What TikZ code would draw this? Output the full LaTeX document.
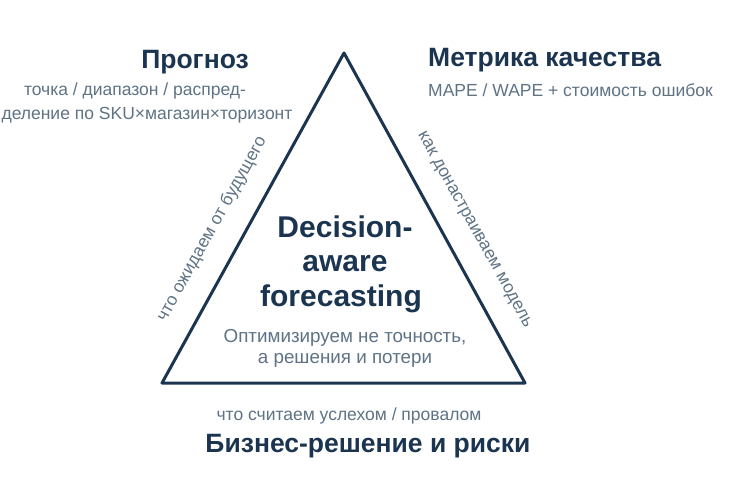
\documentclass[tikz,border=0pt]{standalone}
\usepackage{fontspec}
\setmainfont{Liberation Sans}
\definecolor{navy}{HTML}{1B3550}
\definecolor{greytext}{HTML}{5F7385}
\begin{document}
\begin{tikzpicture}[x=1bp,y=-1bp,
  title/.style={inner sep=0pt,text=navy,font=\fontsize{26.5bp}{30bp}\selectfont\bfseries},
  core/.style={inner sep=0pt,text=navy,font=\fontsize{30bp}{34bp}\selectfont\bfseries},
  sub/.style={inner sep=0pt,text=greytext,font=\fontsize{17.5bp}{21bp}\selectfont},
  coresub/.style={inner sep=0pt,text=greytext,font=\fontsize{18.8bp}{22bp}\selectfont},
  edge/.style={draw=navy,line width=3bp,line join=round,line cap=round}]
\useasboundingbox[fill=white] (0,0) rectangle (751,501);
\coordinate (A) at (344,53);
\coordinate (B) at (162,383);
\coordinate (C) at (525,383);
\draw[edge] (A) -- (B) -- (C) -- cycle;
% top-left
\node[title,anchor=base] (t1) at (195,69) {Прогноз};
\node[sub,anchor=base] (s1a) at (135,96) {точка / диапазон / распред-};
\node[sub,anchor=base] (s1b) at (147,120) {деление по SKU×магазин×торизонт};
% top-right
\node[title,anchor=base west] (t2) at (428,67) {Метрика качества};
\node[sub,anchor=base west] (s2) at (428,97) {MAPE / WAPE + стоимость ошибок};
% center
\node[core,anchor=base] (c1) at (345,238) {Decision-};
\node[core,anchor=base] (c2) at (345,272) {aware};
\node[core,anchor=base] (c3) at (341,306) {forecasting};
\node[coresub,anchor=base] (c4) at (345,342) {Оптимизируем не точность,};
\node[coresub,anchor=base] (c5) at (345,363) {а решения и потери};
% sides
\node[sub,rotate=61] (l) at (212,229) {что ожидаем от будущего};
\node[sub,rotate=-61] (r) at (474,230) {как донастраиваем модель};
% bottom
\node[sub,anchor=base] (b1) at (349,420) {что считаем услехом / провалом};
\node[title,anchor=base] (b2) at (368,452) {Бизнес-решение и риски};
\end{tikzpicture}
\end{document}
